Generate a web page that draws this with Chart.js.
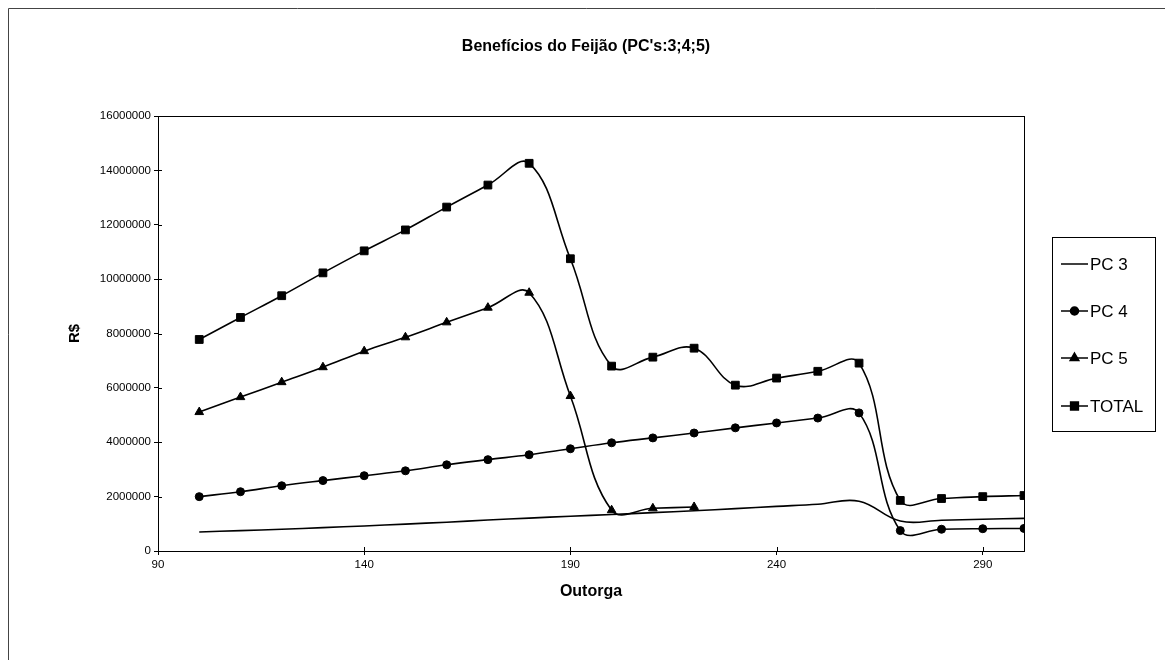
<!DOCTYPE html>
<html>
<head>
<meta charset="utf-8">
<script src="https://cdn.jsdelivr.net/npm/chart.js@4.4.1/dist/chart.umd.min.js"></script>
<style>
html,body{margin:0;padding:0;background:#fff;}
#wrap{width:1165px;height:660px;position:relative;}
</style>
</head>
<body>
<div id="wrap"><canvas id="c" width="1165" height="660"></canvas></div>
<script>
const chartTitle = "Benefícios do Feijão (PC's:3;4;5)";
const xTitle = "Outorga";
const yTitle = "R$";
const outorga = [100,110,120,130,140,150,160,170,180,190,200,210,220,230,240,250,260,270,280,290,300];
const pc3 = [700000,750000,800000,860000,920000,990000,1060000,1140000,1210000,1280000,1340000,1410000,1480000,1560000,1640000,1720000,1830000,1100000,1130000,1170000,1200000];
const pc4 = [2000000,2180000,2400000,2590000,2770000,2950000,3170000,3360000,3540000,3760000,3980000,4160000,4340000,4530000,4710000,4890000,5080000,750000,800000,820000,830000];
const pc5 = [5110000,5660000,6210000,6760000,7350000,7860000,8410000,8950000,9500000,5700000,1500000,1570000,1620000];
const total = [7780000,8590000,9390000,10230000,11040000,11810000,12650000,13460000,14260000,10750000,6800000,7130000,7460000,6100000,6360000,6610000,6910000,1860000,1930000,2000000,2040000];
const xTicks = [90,140,190,240,290];
const yTicks = [0,2000000,4000000,6000000,8000000,10000000,12000000,14000000,16000000];
const seriesNames = ["PC 3","PC 4","PC 5","TOTAL"];

const FONT = 'Arial, "Liberation Sans", Helvetica, sans-serif';
const pts = (ys) => ys.map((v,i)=>({x:outorga[i], y:v}));

const frame = {
  id:'frame',
  beforeDraw(chart){
    const ctx = chart.ctx;
    ctx.save();
    ctx.strokeStyle = '#444'; ctx.lineWidth = 1;
    ctx.beginPath();
    ctx.moveTo(8.5, 660); ctx.lineTo(8.5, 8.5); ctx.lineTo(1165, 8.5);
    ctx.stroke();
    ctx.fillStyle = '#000';
    ctx.font = 'bold 16px ' + FONT;
    ctx.textAlign = 'center'; ctx.textBaseline = 'middle';
    ctx.fillText(chartTitle, 586, 47);
    ctx.restore();
  },
  afterDraw(chart){
    const ctx = chart.ctx, a = chart.chartArea;
    ctx.save();
    ctx.strokeStyle = '#000'; ctx.lineWidth = 1;
    ctx.strokeRect(Math.round(a.left)+0.5, Math.round(a.top)+0.5, Math.round(a.right-a.left), Math.round(a.bottom-a.top));
    const ys = chart.scales.y, xs = chart.scales.x;
    ctx.beginPath();
    yTicks.forEach(v=>{ const p = Math.round(ys.getPixelForValue(v))+0.5; ctx.moveTo(a.left, p); ctx.lineTo(a.left+4, p); });
    xTicks.forEach(v=>{ const p = Math.round(xs.getPixelForValue(v))+0.5; ctx.moveTo(p, a.bottom); ctx.lineTo(p, a.bottom-4); });
    ctx.stroke();
    // legend
    const lx = 1052, ly = 237, lw = 103, lh = 194;
    ctx.strokeRect(lx+0.5, ly+0.5, lw, lh);
    const rowY = [264, 311, 358, 406];
    chart.data.datasets.forEach((ds, i)=>{
      const y = rowY[i];
      ctx.beginPath(); ctx.lineWidth = 1.5;
      ctx.moveTo(1061, y); ctx.lineTo(1088, y); ctx.stroke();
      if (ds.pointStyle && ds.pointRadius > 0) {
        ctx.fillStyle = '#000';
        Chart.helpers.drawPoint(ctx, {pointStyle: ds.pointStyle, radius: ds.pointRadius, borderWidth: 1}, 1074.5, y);
        ctx.fill();
      }
      ctx.fillStyle = '#000';
      ctx.font = '17px ' + FONT;
      ctx.textAlign = 'left'; ctx.textBaseline = 'middle';
      ctx.fillText(ds.label, 1090, y + 1);
    });
    ctx.restore();
  }
};

const common = {borderColor:'#000', backgroundColor:'#000', borderWidth:1.6, showLine:true, tension:0.4, pointBorderColor:'#000', pointBackgroundColor:'#000', pointBorderWidth:1};

new Chart(document.getElementById('c'), {
  type:'scatter',
  data:{ datasets:[
    Object.assign({label:seriesNames[0], data:pts(pc3), pointRadius:0, pointStyle:false}, common),
    Object.assign({label:seriesNames[1], data:pts(pc4), pointRadius:4, pointStyle:'circle'}, common),
    Object.assign({label:seriesNames[2], data:pts(pc5), pointRadius:5, pointStyle:'triangle'}, common),
    Object.assign({label:seriesNames[3], data:pts(total), pointRadius:5.5, pointStyle:'rect'}, common)
  ]},
  options:{
    responsive:false, animation:false, devicePixelRatio:1,
    layout:{padding:{left:62, right:141, top:116, bottom:48}},
    plugins:{legend:{display:false}, title:{display:false}, tooltip:{enabled:false}},
    scales:{
      x:{ type:'linear', min:90, max:300,
        afterBuildTicks(s){ s.ticks = xTicks.map(v=>({value:v})); },
        afterFit(s){ s.height = 61; },
        grid:{drawOnChartArea:false, color:'#000', tickLength:4, tickColor:'#000'},
        border:{color:'#000', width:1},
        ticks:{color:'#000', font:{family:FONT, size:11.5}, padding:3, maxRotation:0, autoSkip:false},
        title:{display:true, text:xTitle, color:'#000', font:{family:FONT, size:16, weight:'bold'}, padding:{top:0, bottom:11}}
      },
      y:{ type:'linear', min:0, max:16000000,
        afterBuildTicks(s){ s.ticks = yTicks.map(v=>({value:v})); },
        afterFit(s){ s.width = 96; },
        grid:{drawOnChartArea:false, color:'#000', tickLength:4, tickColor:'#000'},
        border:{color:'#000', width:1},
        ticks:{color:'#000', font:{family:FONT, size:11.5}, padding:3, callback:(v)=>String(v)},
        title:{display:true, text:yTitle, color:'#000', font:{family:FONT, size:15, weight:'bold'}, padding:{top:4, bottom:4}}
      }
    }
  },
  plugins:[frame]
});
</script>
</body>
</html>
